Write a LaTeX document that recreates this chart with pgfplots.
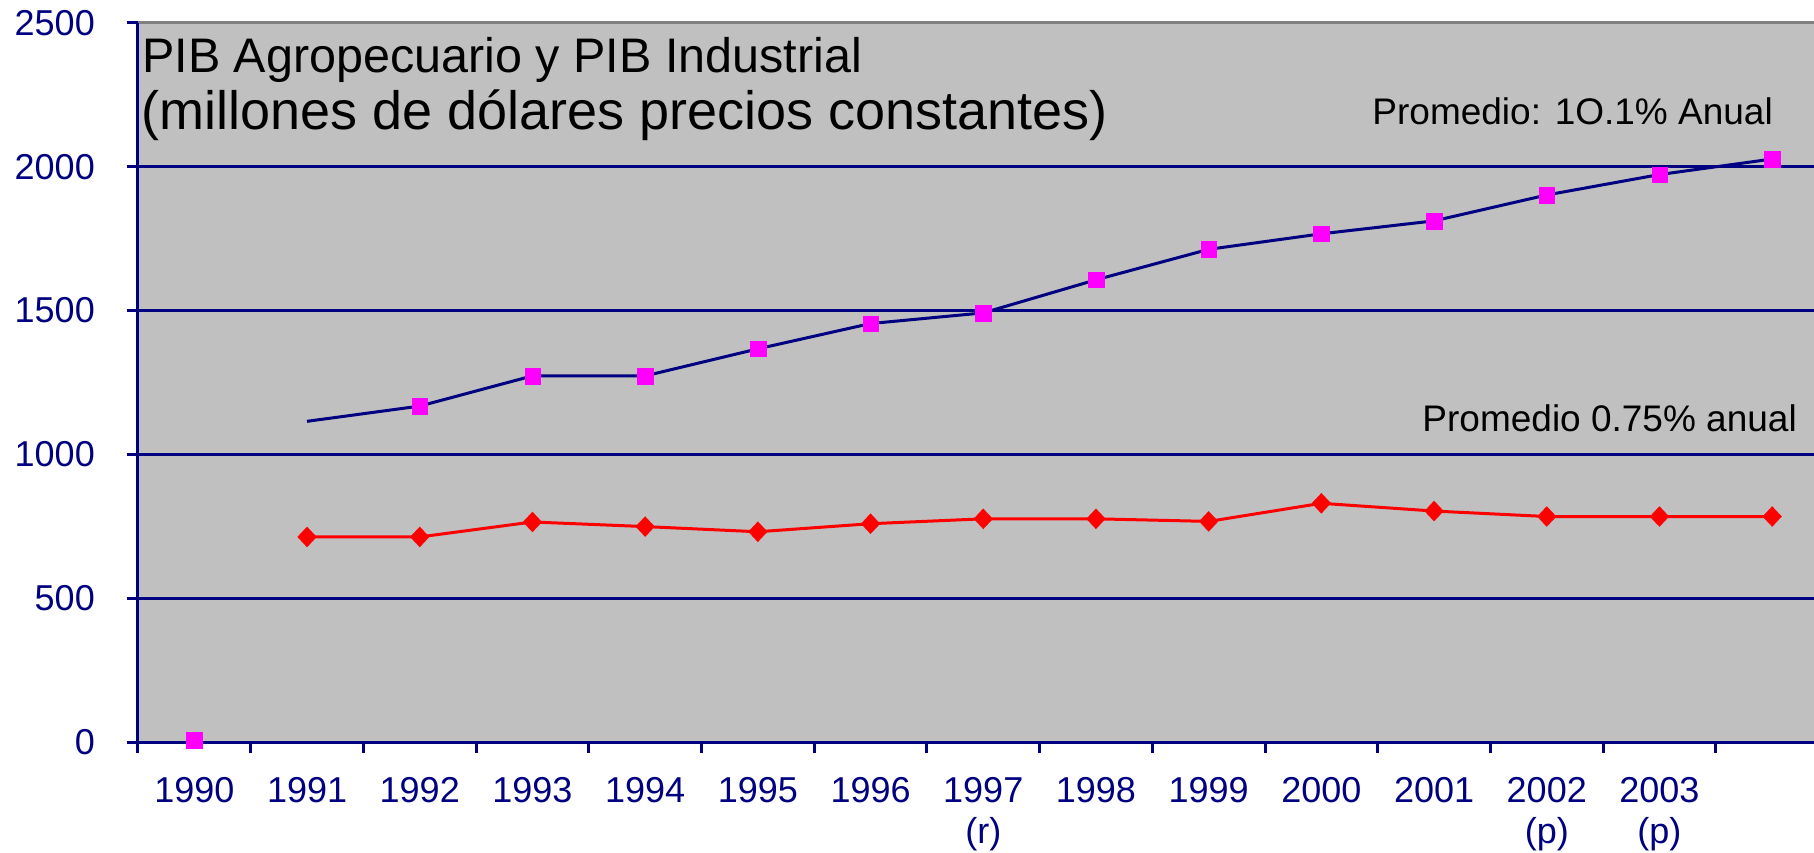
\documentclass[border=0pt]{standalone}
\usepackage{pgfplots}
\pgfplotsset{compat=1.18}
\usepackage{fontspec}
\setmainfont{Liberation Sans}
\definecolor{navyc}{RGB}{0,0,128}
\definecolor{bggray}{RGB}{192,192,192}
\definecolor{bordergray}{RGB}{128,128,128}
\definecolor{pinkm}{RGB}{255,0,255}
\definecolor{redc}{RGB}{255,0,0}
\begin{document}
\begin{tikzpicture}
\path[use as bounding box] (-138bp,-111bp) rectangle (1676bp,742bp);
\begin{axis}[
  scale only axis,
  width=1690.5bp, height=719bp,
  xmin=-0.5, xmax=14.5,
  ymin=0, ymax=2500,
  ytick={0,500,...,2500},
  xtick={-0.5,0.5,...,13.5},
  x tick label as interval,
  xticklabels={1990,1991,1992,1993,1994,1995,1996,{1997\\(r)},1998,1999,2000,2001,{2002\\(p)},{2003\\(p)}},
  xtick pos=bottom, ytick pos=left,
  tick align=outside,
  major tick length=11bp,
  tick style={navyc, line width=3bp},
  axis line style={draw=none},
  axis background/.style={fill=bggray},
  ymajorgrids,
  major grid style={navyc, line width=3bp},
  /pgf/number format/assume math mode=true,
  /pgf/number format/1000 sep={},
  tick label style={font=\fontsize{36bp}{41bp}\selectfont, text=navyc, inner sep=0pt},
  yticklabel style={anchor=east, xshift=-32bp},
  xticklabel style={anchor=north, align=center, yshift=-24bp},
  clip=false,
]
\draw[bordergray, line width=3bp] (rel axis cs:0,1) -- (rel axis cs:1,1);
\draw[navyc, line width=3bp] (rel axis cs:0,1) -- (rel axis cs:0,0) -- (rel axis cs:1,0);
\addplot[navyc, line width=3bp, mark=none] coordinates {
(1,1115) (2,1168) (3,1273) (4,1273) (5,1367) (6,1455) (7,1492)
(8,1607) (9,1713) (10,1767) (11,1812) (12,1902) (13,1973) (14,2027)};
\addplot[only marks, mark=square*, mark size=7.8bp, mark options={fill=pinkm, draw=pinkm, line width=0.3bp}] coordinates {
(0,6) (2,1168) (3,1273) (4,1273) (5,1367) (6,1455) (7,1492)
(8,1607) (9,1713) (10,1767) (11,1812) (12,1902) (13,1973) (14,2027)};
\addplot[redc, line width=3bp, mark=diamond*, mark size=10bp, mark options={fill=redc, draw=redc, line width=0.3bp, xscale=1.25}] coordinates {
(1,713) (2,713) (3,765) (4,749) (5,731) (6,759) (7,776)
(8,776) (9,767) (10,830) (11,803) (12,784) (13,784) (14,784)};
\end{axis}
\node[anchor=base west, inner sep=0pt, font=\fontsize{48.5bp}{56bp}\selectfont] at (4bp,669bp) {PIB Agropecuario y PIB Industrial};
\node[anchor=base west, inner sep=0pt, font=\fontsize{54bp}{62bp}\selectfont] at (3bp,612bp) {(millones de dólares precios constantes)};
\node[anchor=base east, inner sep=0pt, font=\fontsize{37bp}{44bp}\selectfont] at (1635bp,617bp) {Promedio: 1O.1\% Anual};
\node[anchor=base east, inner sep=0pt, font=\fontsize{37bp}{44bp}\selectfont] at (1659bp,310bp) {Promedio 0.75\% anual};
\end{tikzpicture}
\end{document}
